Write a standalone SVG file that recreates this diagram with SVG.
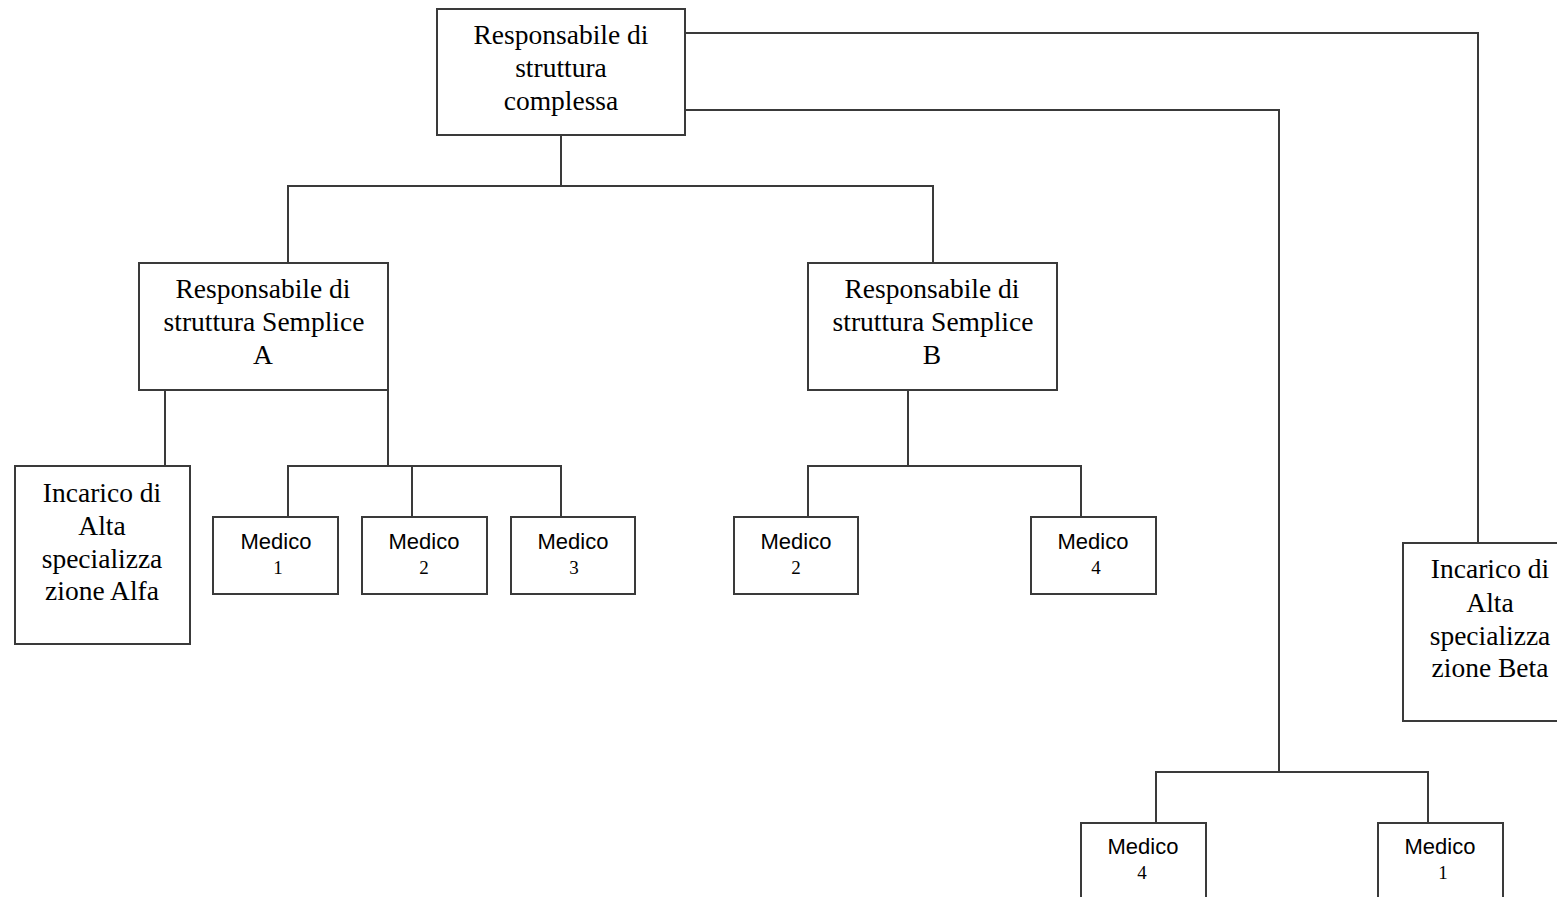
<svg xmlns="http://www.w3.org/2000/svg" width="1557" height="897" viewBox="0 0 1557 897">
<style>
.box{fill:#fff;stroke:#3a3a3a;stroke-width:2}
.ln{fill:none;stroke:#3a3a3a;stroke-width:2}
.t{font-family:"Liberation Serif","Times New Roman",serif;font-size:27.5px;fill:#000;text-anchor:middle}
.m{font-family:"Liberation Sans",Arial,sans-serif;font-size:22px;fill:#000;text-anchor:middle}
.n{font-family:"Liberation Serif","Times New Roman",serif;font-size:19px;fill:#000;text-anchor:middle}
</style>
<rect width="1557" height="897" fill="#fff"/>
<g id="connectors">
<path class="ln" d="M685,33 H1478 V543"/>
<path class="ln" d="M685,110 H1279 V772"/>
<path class="ln" d="M561,135 V186 M288,263 V186 H933 V263"/>
<path class="ln" d="M165,390 V466"/>
<path class="ln" d="M388,390 V466 M288,517 V466 H561 V517 M412,466 V517"/>
<path class="ln" d="M908,390 V466 M808,517 V466 H1081 V517"/>
<path class="ln" d="M1156,823 V772 H1428 V823"/>
</g>
<g id="rsc">
<rect class="box" x="437" y="9" width="248" height="126"/>
<text class="t" x="561" y="44">Responsabile di</text>
<text class="t" x="561" y="77">struttura</text>
<text class="t" x="561" y="110">complessa</text>
</g>
<g id="rssA">
<rect class="box" x="139" y="263" width="249" height="127"/>
<text class="t" x="263" y="298">Responsabile di</text>
<text class="t" x="264" y="331">struttura Semplice</text>
<text class="t" x="263" y="364">A</text>
</g>
<g id="rssB">
<rect class="box" x="808" y="263" width="249" height="127"/>
<text class="t" x="932" y="298">Responsabile di</text>
<text class="t" x="933" y="331">struttura Semplice</text>
<text class="t" x="932" y="364">B</text>
</g>
<g id="alfa">
<rect class="box" x="15" y="466" width="175" height="178"/>
<text class="t" x="102" y="502">Incarico di</text>
<text class="t" x="102" y="535">Alta</text>
<text class="t" x="102" y="568">specializza</text>
<text class="t" x="102" y="600">zione Alfa</text>
</g>
<g id="beta">
<rect class="box" x="1403" y="543" width="175" height="178"/>
<text class="t" x="1490" y="578">Incarico di</text>
<text class="t" x="1490" y="612">Alta</text>
<text class="t" x="1490" y="645">specializza</text>
<text class="t" x="1490" y="677">zione Beta</text>
</g>
<g id="mA1">
<rect class="box" x="213" y="517" width="125" height="77"/>
<text class="m" x="276" y="549">Medico</text>
<text class="n" x="278" y="574">1</text>
</g>
<g id="mA2">
<rect class="box" x="362" y="517" width="125" height="77"/>
<text class="m" x="424" y="549">Medico</text>
<text class="n" x="424" y="574">2</text>
</g>
<g id="mA3">
<rect class="box" x="511" y="517" width="124" height="77"/>
<text class="m" x="573" y="549">Medico</text>
<text class="n" x="574" y="574">3</text>
</g>
<g id="mB2">
<rect class="box" x="734" y="517" width="124" height="77"/>
<text class="m" x="796" y="549">Medico</text>
<text class="n" x="796" y="574">2</text>
</g>
<g id="mB4">
<rect class="box" x="1031" y="517" width="125" height="77"/>
<text class="m" x="1093" y="549">Medico</text>
<text class="n" x="1096" y="574">4</text>
</g>
<g id="mC4">
<rect class="box" x="1081" y="823" width="125" height="90"/>
<text class="m" x="1143" y="854">Medico</text>
<text class="n" x="1142" y="879">4</text>
</g>
<g id="mC1">
<rect class="box" x="1378" y="823" width="125" height="90"/>
<text class="m" x="1440" y="854">Medico</text>
<text class="n" x="1443" y="879">1</text>
</g>
</svg>
